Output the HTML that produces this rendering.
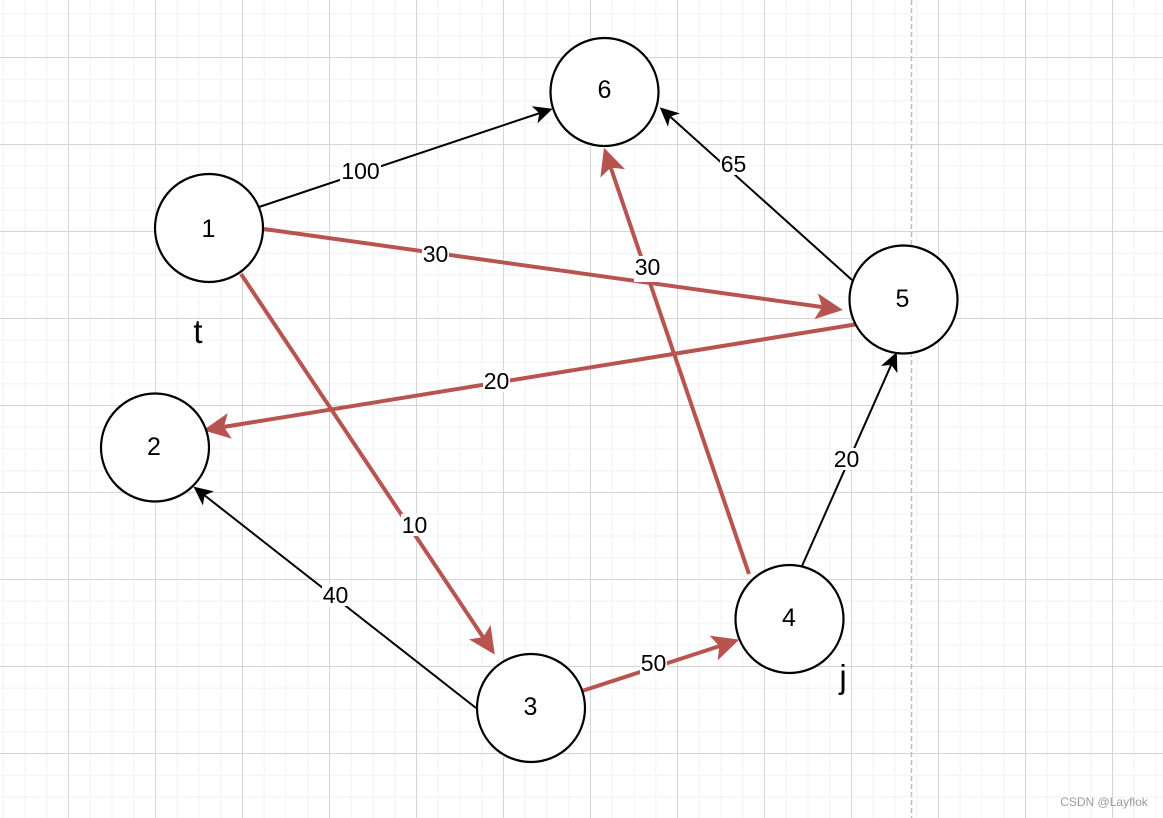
<!DOCTYPE html>
<html><head><meta charset="utf-8"><style>
html,body{margin:0;padding:0;background:#fff;width:1163px;height:818px;overflow:hidden}
svg{display:block}
text{font-family:"Liberation Sans",sans-serif;fill:#000;text-anchor:middle}
.n{font-size:25px}
.l{font-size:23px}
</style></head><body>
<svg width="1163" height="818" viewBox="0 0 1163 818" xmlns="http://www.w3.org/2000/svg">
<defs>
<pattern id="mi" width="87" height="87" patternUnits="userSpaceOnUse" x="68.5" y="57.5">
<path d="M21.75 0V87M43.5 0V87M65.25 0V87M0 21.75H87M0 43.5H87M0 65.25H87" stroke="#f5f5f5" stroke-width="1.5" fill="none"/>
</pattern>
<marker id="r" markerUnits="userSpaceOnUse" markerWidth="40" markerHeight="40" refX="14" refY="20" orient="auto">
<path d="M28 20L1 7L7 20L1 33Z" fill="#b85450"/>
</marker>
<marker id="b" markerUnits="userSpaceOnUse" markerWidth="30" markerHeight="30" refX="13" refY="15" orient="auto">
<path d="M20 15L1 6L6 15L1 24Z" fill="#000"/>
</marker>
</defs>
<rect width="1163" height="818" fill="#fff"/>
<rect width="1163" height="818" fill="url(#mi)"/>
<g stroke="#d4d4d4" stroke-width="1">
<path d="M68.5 0V818M155.5 0V818M242.5 0V818M329.5 0V818M416.5 0V818M503.5 0V818M590.5 0V818M677.5 0V818M764.5 0V818M851.5 0V818M938.5 0V818M1025.5 0V818M1112.5 0V818"/>
<path d="M0 57.5H1163M0 144.5H1163M0 231.5H1163M0 318.5H1163M0 405.5H1163M0 492.5H1163M0 579.5H1163M0 666.5H1163M0 753.5H1163"/>
</g>
<line x1="911.5" y1="0" x2="911.5" y2="818" stroke="#bdbdbd" stroke-width="1.5" stroke-dasharray="5 3"/>

<g fill="none" stroke="#000" stroke-width="2">
<line x1="259" y1="207" x2="546" y2="111" marker-end="url(#b)"/>
<line x1="802" y1="566" x2="894" y2="358.5" marker-end="url(#b)"/>
<line x1="852" y1="280" x2="665" y2="112" marker-end="url(#b)"/>
<line x1="476" y1="708" x2="199" y2="491" marker-end="url(#b)"/>
</g>
<g fill="none" stroke="#b85450" stroke-width="4">
<line x1="264" y1="229" x2="829" y2="308" marker-end="url(#r)"/>
<line x1="241" y1="274" x2="487" y2="643" marker-end="url(#r)"/>
<line x1="858" y1="324" x2="217" y2="428" marker-end="url(#r)"/>
<line x1="582" y1="691" x2="726" y2="644" marker-end="url(#r)"/>
<line x1="749" y1="574" x2="608.5" y2="161" marker-end="url(#r)"/>
</g>

<g fill="#fff">
<rect x="340" y="160" width="41" height="22"/>
<rect x="422" y="243" width="27" height="22"/>
<rect x="634" y="256" width="27" height="26"/>
<rect x="720" y="153" width="27" height="22"/>
<rect x="483" y="370" width="27" height="22"/>
<rect x="833" y="448" width="27" height="22"/>
<rect x="401" y="514" width="27" height="22"/>
<rect x="322" y="584" width="27" height="22"/>
<rect x="640" y="652" width="27" height="22"/>
</g>
<text class="l" x="360.5" y="179">100</text>
<text class="l" x="435.5" y="262">30</text>
<text class="l" x="647.5" y="275">30</text>
<text class="l" x="733.5" y="172">65</text>
<text class="l" x="496.5" y="389">20</text>
<text class="l" x="846.5" y="467">20</text>
<text class="l" x="414.5" y="533">10</text>
<text class="l" x="335.5" y="603">40</text>
<text class="l" x="653.5" y="671">50</text>

<g fill="#fff" stroke="#000" stroke-width="2.2">
<circle cx="209" cy="228" r="54"/>
<circle cx="604.5" cy="92" r="54"/>
<circle cx="903.5" cy="299.5" r="54"/>
<circle cx="155" cy="447.5" r="54"/>
<circle cx="531" cy="708" r="54"/>
<circle cx="789.5" cy="619" r="54"/>
</g>
<text class="n" x="208.5" y="237">1</text>
<text class="n" x="604.5" y="98">6</text>
<text class="n" x="902.5" y="307">5</text>
<text class="n" x="154" y="455">2</text>
<text class="n" x="530.5" y="715">3</text>
<text class="n" x="789" y="626">4</text>
<text x="198" y="343" font-size="33">t</text>
<text x="843" y="688" font-size="33">j</text>
<text x="1104" y="806" font-size="12" style="fill:#9a9a9a">CSDN @Layflok</text>
</svg>
</body></html>
